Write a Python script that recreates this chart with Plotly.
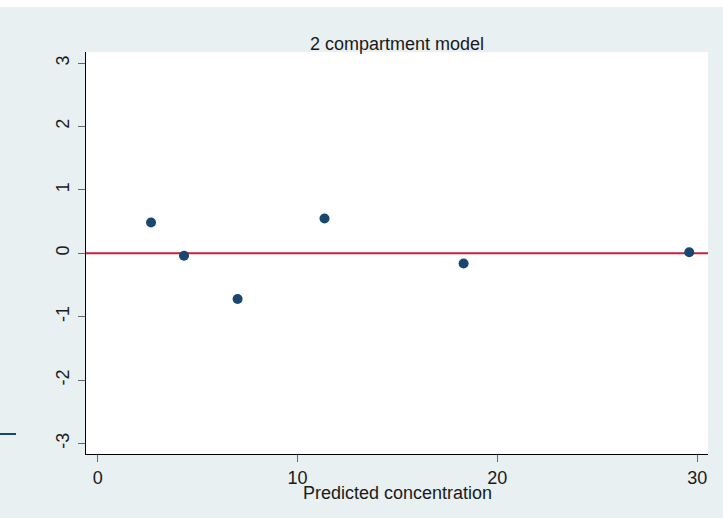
import plotly.graph_objects as go

# Residuals against predicted concentration
pred_conc = [2.67, 4.32, 7.0, 11.35, 18.31, 29.6]
residuals = [0.485, -0.04, -0.72, 0.55, -0.16, 0.015]

x_ticks = [0, 10, 20, 30]
y_ticks = [-3, -2, -1, 0, 1, 2, 3]

W, H = 723, 518
L, R, T, B = 86, 15, 52, 64
PW, PH = W - L - R, H - T - B

def px_x(px):
    return (px - L) / PW

def px_y(py):
    return (H - B - py) / PH

BG = "#E8F0F2"
NAVY = "#1A476F"
FONT = "Liberation Sans, Arial, Helvetica, sans-serif"

fig = go.Figure()
fig.add_trace(go.Scatter(
    x=pred_conc, y=residuals, mode="markers",
    marker=dict(color=NAVY, size=10, line=dict(width=0)),
    showlegend=False, cliponaxis=False,
))

fig.add_hline(y=0, line=dict(color="#C8203F", width=2), layer="below")

fig.update_layout(
    width=W, height=H,
    margin=dict(l=L, r=R, t=T, b=B),
    paper_bgcolor=BG, plot_bgcolor="white",
    font=dict(family=FONT, color="#1a1a1a"),
    xaxis=dict(
        range=[-0.585, 30.54], tickvals=x_ticks, ticktext=[str(v) for v in x_ticks],
        showgrid=False, zeroline=False, showline=True, linecolor="black", linewidth=1,
        ticks="outside", ticklen=7, tickcolor="#666", tickwidth=1,
        tickfont=dict(size=18, family=FONT, color="#1a1a1a"),
    ),
    yaxis=dict(
        range=[-3.166, 3.175], tickvals=y_ticks, ticktext=[str(v) for v in y_ticks],
        showgrid=False, zeroline=False, showline=True, linecolor="black", linewidth=1,
        ticks="outside", ticklen=7, tickcolor="#666", tickwidth=1,
        tickangle=-90, tickfont=dict(size=18, family=FONT, color="#1a1a1a"),
        ticklabelstandoff=2,
    ),
    shapes=[
        # white strips around the bluish graph region
        dict(type="rect", xref="paper", yref="paper", layer="below",
             x0=px_x(0), x1=px_x(16), y0=px_y(H), y1=px_y(0),
             fillcolor="white", line=dict(width=0)),
        dict(type="rect", xref="paper", yref="paper", layer="below",
             x0=px_x(0), x1=px_x(W), y0=px_y(7), y1=px_y(0),
             fillcolor="white", line=dict(width=0)),
        dict(type="line", xref="paper", yref="paper", layer="above",
             x0=px_x(0), x1=px_x(16), y0=px_y(434), y1=px_y(434),
             line=dict(color=NAVY, width=2)),
    ],
    annotations=[
        dict(text="2 compartment model", xref="paper", yref="paper",
             x=0.5, y=px_y(44), xanchor="center", yanchor="middle",
             showarrow=False, font=dict(size=18, family=FONT, color="#1a1a1a")),
        dict(text="Predicted concentration", xref="paper", yref="paper",
             x=0.5, y=px_y(493), xanchor="center", yanchor="middle",
             showarrow=False, font=dict(size=18, family=FONT, color="#1a1a1a")),
    ],
)

fig.write_html("out.html")
